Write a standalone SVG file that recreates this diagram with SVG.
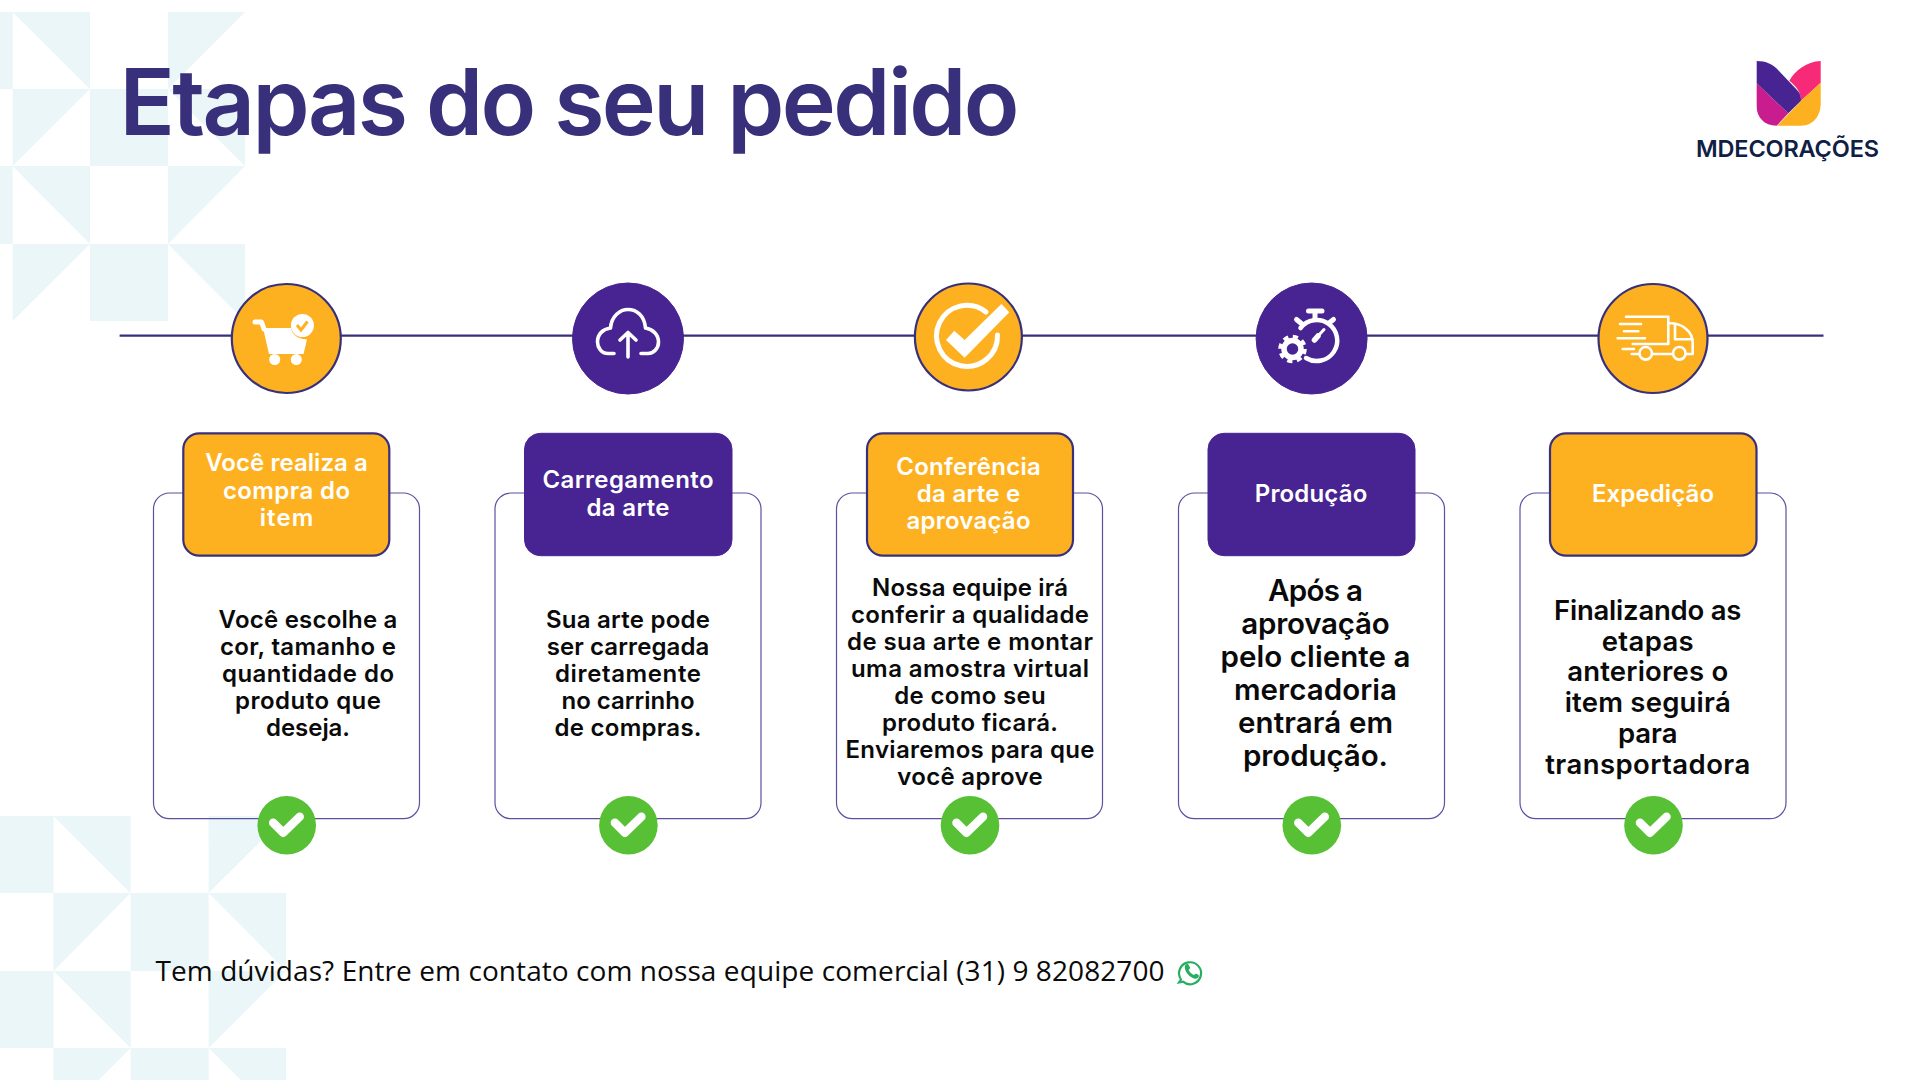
<svg xmlns="http://www.w3.org/2000/svg" xmlns:xlink="http://www.w3.org/1999/xlink" width="1920" height="1080" viewBox="0 0 1920 1080">
<style>
text{font-family:"Inter","Liberation Sans",sans-serif}
.bg{fill:#eaf6f8}
.ln{stroke:#38307a;stroke-width:2.2;fill:none}
.org{fill:#feb120;stroke:#38307a;stroke-width:2.2}
.pur{fill:#472492;stroke:#472492;stroke-width:1}
.card{fill:none;stroke:#5c50a0;stroke-width:1.2}
.hd{font-size:24px;font-weight:600;fill:#fff;text-anchor:middle}
.bd{font-weight:600;fill:#0a0a0a;text-anchor:middle}
.s23{font-size:24px}.s28{font-size:29.5px}.s26{font-size:27.5px}
.ic{fill:none;stroke:#fff;stroke-linecap:round;stroke-linejoin:round}
.ok{fill:#57c034}
.okm{fill:none;stroke:#fff;stroke-width:8.5;stroke-linecap:round;stroke-linejoin:round}
</style>
<defs>
<g id="okmark"><circle class="ok" r="29.3"/><path class="okm" d="M-13.5-2.5L-3.5 7.5L13-8.5"/></g>
</defs>

<g id="background-top">
<rect class="bg" x="0" y="12" width="12.6" height="77"/>
<path class="bg" d="M12.6 12H90V89Z"/><path class="bg" d="M168 12H245L168 89Z"/>
<path class="bg" d="M12.6 89H90L12.6 166Z"/><rect class="bg" x="90" y="89" width="78" height="77"/><path class="bg" d="M168 89H245V166Z"/>
<rect class="bg" x="0" y="166" width="12.6" height="78"/>
<path class="bg" d="M12.6 166H90V244Z"/><path class="bg" d="M168 166H245L168 244Z"/>
<path class="bg" d="M12.6 244H90L12.6 321Z"/><rect class="bg" x="90" y="244" width="78" height="77"/><path class="bg" d="M168 244H245V321Z"/>
</g>
<g id="background-bottom">
<rect class="bg" x="0" y="816" width="53.5" height="77"/>
<path class="bg" d="M53.5 816H130.6V893Z"/><path class="bg" d="M208.6 816H286L208.6 893Z"/>
<path class="bg" d="M53.5 893H130.6L53.5 971Z"/><rect class="bg" x="130.6" y="893" width="78" height="78"/><path class="bg" d="M208.6 893H286V971Z"/>
<rect class="bg" x="0" y="971" width="53.5" height="77"/>
<path class="bg" d="M53.5 971H130.6V1048Z"/><path class="bg" d="M208.6 971H286L208.6 1048Z"/>
<path class="bg" d="M53.5 1048H130.6L53.5 1125Z"/><rect class="bg" x="130.6" y="1048" width="78" height="32"/><path class="bg" d="M208.6 1048H286V1125Z"/>
</g>

<text id="title" x="119.5" y="135" font-size="91.5" font-weight="600" fill="#38307a" textLength="900">Etapas do seu pedido</text>

<g id="logo">
<path fill="#c91c8f" d="M1756.7 83.3L1788.3 113.3L1776.7 125.7C1764 125.7 1756.7 117 1756.7 106.7Z"/>
<path fill="#f72a78" d="M1789.3 80.7C1795 71 1806 61.5 1820.7 61V82.7L1801 100.7C1801 92 1796 86 1789.3 80.7Z"/>
<path fill="#feb120" d="M1820.7 82.7V103C1820.7 116 1813 125.7 1801 125.7H1777.3L1801 100.7Z"/>
<path fill="#472492" d="M1756.7 61C1766 61 1773 64 1779 71L1797 90C1800 93 1801 96 1801 100.7L1788.3 113.3L1756.7 83.3Z"/>
<text x="1696" y="157" font-weight="600" fill="#0f2044" textLength="183" style="font-size:23.5px">MDECORAÇÕES</text>
</g>

<g id="connectors">
<line class="ln" x1="119.6" y1="335.7" x2="1823.5" y2="335.7"/>
</g>

<g id="step1">
<rect class="card" x="153.5" y="493" width="266" height="325.7" rx="16"/>
<circle class="org" cx="286.3" cy="338.5" r="54.5"/>
<path class="ic" stroke-width="5" d="M255 322H261.5L264 329"/>
<path fill="#fff" d="M263 328H291C292 334 297 339 307 339.5L303.5 354H269Z"/>
<circle fill="#fff" cx="274.7" cy="359.5" r="5.5"/><circle fill="#fff" cx="296.3" cy="359.5" r="5.5"/>
<circle fill="#fff" cx="302.4" cy="325.5" r="11.5"/>
<path fill="none" stroke="#feb120" stroke-width="3" d="M297 325L301 330L307.5 321.5"/>
<rect x="183.3" y="433.3" width="206" height="122.4" rx="16" class="org"/>
<text class="hd" x="286.5" y="470.5" textLength="162.5">Você realiza a</text>
<text class="hd" x="286.5" y="498.5" textLength="127">compra do</text>
<text class="hd" x="286.5" y="526" textLength="53.5">item</text>
<g class="s23">
<text class="bd" x="308" y="627.7" textLength="178.8">Você escolhe a</text>
<text class="bd" x="308" y="654.7" textLength="176">cor, tamanho e</text>
<text class="bd" x="308" y="681.7" textLength="172">quantidade do</text>
<text class="bd" x="308" y="708.7" textLength="146">produto que</text>
<text class="bd" x="308" y="735.7" textLength="84">deseja.</text>
</g>
<use href="#okmark" x="286.7" y="825.3"/>
</g>

<g id="step2">
<rect class="card" x="495" y="493" width="266" height="325.7" rx="16"/>
<circle class="pur" cx="628" cy="338.5" r="55.5"/>
<path class="ic" stroke-width="3.6" d="M614 353.5H608C601 353.5 597.5 347 597.5 342C597.5 334 603 329 610.5 328C611.5 316 620 309.5 628 309.5C637 309.5 644.5 316 645.5 328C653 329 658.5 335 658.5 342C658.5 348 654 353.5 648 353.5H641"/>
<path class="ic" stroke-width="3.6" d="M628 357V333M620 340L628 332.5L636 340"/>
<rect x="524.5" y="433.3" width="207.5" height="122.4" rx="16" class="pur"/>
<text class="hd" x="628" y="487.5" textLength="171">Carregamento</text>
<text class="hd" x="628" y="515.5" textLength="83">da arte</text>
<g class="s23">
<text class="bd" x="628" y="627.7" textLength="164">Sua arte pode</text>
<text class="bd" x="628" y="654.7" textLength="162.5">ser carregada</text>
<text class="bd" x="628" y="681.7" textLength="146">diretamente</text>
<text class="bd" x="628" y="708.7" textLength="133">no carrinho</text>
<text class="bd" x="628" y="735.7" textLength="147">de compras.</text>
</g>
<use href="#okmark" x="628.4" y="825.3"/>
</g>

<g id="step3">
<rect class="card" x="836.5" y="493" width="266" height="325.7" rx="16"/>
<circle class="org" cx="968.4" cy="337" r="53.5"/>
<path class="ic" stroke-width="5" stroke-linecap="butt" d="M997.5 335A30.5 30.5 0 1 1 986 312"/>
<path fill="#fff" d="M946 340L954.3 330.7L964.6 340L1001.4 304L1009.3 312.3L964.6 357.7Z"/>
<rect x="867" y="433.3" width="206" height="122.4" rx="16" class="org"/>
<text class="hd" x="968.5" y="474.5" textLength="144.6">Conferência</text>
<text class="hd" x="968.5" y="502" textLength="103.6">da arte e</text>
<text class="hd" x="968.5" y="529" textLength="124">aprovação</text>
<g class="s23">
<text class="bd" x="970" y="595.7" textLength="196">Nossa equipe irá</text>
<text class="bd" x="970" y="622.7" textLength="238">conferir a qualidade</text>
<text class="bd" x="970" y="649.7" textLength="246">de sua arte e montar</text>
<text class="bd" x="970" y="676.7" textLength="238">uma amostra virtual</text>
<text class="bd" x="970" y="703.7" textLength="151.5">de como seu</text>
<text class="bd" x="970" y="730.7" textLength="176">produto ficará.</text>
<text class="bd" x="970" y="757.7" textLength="249">Enviaremos para que</text>
<text class="bd" x="970" y="784.7" textLength="145.5">você aprove</text>
</g>
<use href="#okmark" x="970" y="825.3"/>
</g>

<g id="step4">
<rect class="card" x="1178.5" y="493" width="266" height="325.7" rx="16"/>
<circle class="pur" cx="1311.6" cy="338.5" r="55.5"/>
<path class="ic" stroke-width="4.5" stroke-linecap="butt" d="M1300.5 328A20.5 20.5 0 1 1 1306 358"/>
<path class="ic" stroke-width="5" d="M1308.5 311H1322M1315 312V319M1296.5 319.5L1302 324M1333.5 319.5L1329 323"/>
<path class="ic" stroke-width="5.5" d="M1314.5 340L1318 336"/>
<path class="ic" stroke-width="3" d="M1318 336L1324 329.5"/>
<circle cx="1292.5" cy="349" r="8.5" fill="none" stroke="#fff" stroke-width="5.5"/>
<circle cx="1292.5" cy="349" r="12" fill="none" stroke="#fff" stroke-width="4.5" stroke-dasharray="5 4.42"/>
<rect x="1208" y="433.3" width="207" height="122.4" rx="16" class="pur"/>
<text class="hd" x="1311" y="502" textLength="112.5">Produção</text>
<g class="s28">
<text class="bd" x="1315.5" y="600.5" textLength="95">Após a</text>
<text class="bd" x="1315.5" y="633.5" textLength="148.5">aprovação</text>
<text class="bd" x="1315.5" y="666.5" textLength="190">pelo cliente a</text>
<text class="bd" x="1315.5" y="699.5" textLength="163">mercadoria</text>
<text class="bd" x="1315.5" y="732.5" textLength="155">entrará em</text>
<text class="bd" x="1315.5" y="765.5" textLength="145">produção.</text>
</g>
<use href="#okmark" x="1311.8" y="825.3"/>
</g>

<g id="step5">
<rect class="card" x="1520" y="493" width="266" height="325.7" rx="16"/>
<circle class="org" cx="1653" cy="338.5" r="54.5"/>
<g class="ic" stroke-width="2.6" stroke-linecap="butt">
<path d="M1626 316.7H1668.3V344H1632.7"/>
<path d="M1670 323.3C1682 323.3 1692.7 331 1692.7 343V354H1686"/>
<path d="M1675 325V339.3H1692"/>
<path d="M1620 324H1641M1624 331.3H1638.3M1617.7 338.3H1645M1622.7 349H1634M1631.7 354H1639.3M1652 354H1673"/>
<circle cx="1645.7" cy="353.3" r="6.3"/><circle cx="1679.3" cy="353.3" r="6.3"/>
</g>
<rect x="1550" y="433.3" width="206.5" height="122.4" rx="16" class="org"/>
<text class="hd" x="1653" y="502" textLength="122">Expedição</text>
<g class="s26">
<text class="bd" x="1647.7" y="619.5" textLength="187.5">Finalizando as</text>
<text class="bd" x="1647.7" y="650.5" textLength="92">etapas</text>
<text class="bd" x="1647.7" y="681" textLength="161">anteriores o</text>
<text class="bd" x="1647.7" y="712" textLength="166">item seguirá</text>
<text class="bd" x="1647.7" y="743" textLength="59.5">para</text>
<text class="bd" x="1647.7" y="774" textLength="205">transportadora</text>
</g>
<use href="#okmark" x="1653.5" y="825.3"/>
</g>

<g id="footer">
<text x="155.5" y="981" style="font-family:'Open Sans','Liberation Sans',sans-serif;font-size:28px" fill="#0a0a0a" textLength="1009">Tem dúvidas? Entre em contato com nossa equipe comercial (31) 9 82082700</text>
<g transform="translate(0 -1)">
<path fill="none" stroke="#27ae60" stroke-width="2.2" d="M1181 980.5L1179 983.5L1183 982.7A11 11 0 1 0 1181 980.5Z"/>
<path fill="#27ae60" d="M1185.5 965.5C1187.5 964.5 1188.5 965 1189 966.5L1190 968.5C1190.3 969.5 1189.2 970.3 1188.7 971C1190 973.5 1191.5 974.8 1193.8 976C1194.6 975.3 1195.5 974.2 1196.5 974.8L1198.3 975.8C1199.3 976.5 1199 978 1197.7 979C1195.5 980.5 1192 979.3 1189 976.5C1186 973.7 1183.7 969 1185.5 965.5Z"/>
</g>
</g>
</svg>
